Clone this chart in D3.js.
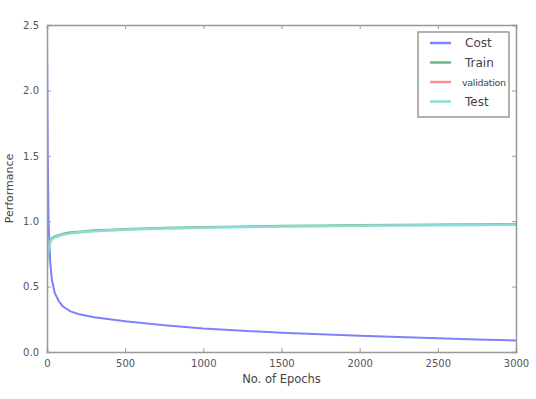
<!DOCTYPE html>
<html>
<head>
<meta charset="utf-8">
<script src="https://cdn.jsdelivr.net/npm/d3@7"></script>
<style>
  body { margin: 0; background: #fff; }
  text { font-family: "DejaVu Sans", sans-serif; fill: #444; }
</style>
</head>
<body>
<div class="canvas"></div>
<script>
// data
const epochs = [0, 5, 10, 20, 30, 50, 75, 100, 150, 200, 300, 400, 500, 750, 1000, 1250, 1500, 1750, 2000, 2250, 2500, 2750, 3000];
const cost = [2.4, 1.5, 1.0, 0.7, 0.56, 0.45, 0.39, 0.35, 0.31, 0.29, 0.265, 0.25, 0.235, 0.205, 0.18, 0.162, 0.148, 0.135, 0.125, 0.115, 0.105, 0.095, 0.088];
const train = [0.72, 0.78, 0.82, 0.85, 0.87, 0.885, 0.895, 0.905, 0.915, 0.92, 0.93, 0.935, 0.94, 0.95, 0.955, 0.96, 0.965, 0.968, 0.97, 0.972, 0.974, 0.976, 0.978];
const validation = [0.70, 0.77, 0.81, 0.845, 0.865, 0.88, 0.89, 0.9, 0.91, 0.917, 0.926, 0.932, 0.937, 0.947, 0.953, 0.958, 0.962, 0.966, 0.968, 0.97, 0.972, 0.974, 0.976];
const test = [0.65, 0.74, 0.79, 0.835, 0.86, 0.875, 0.887, 0.897, 0.907, 0.914, 0.923, 0.929, 0.934, 0.944, 0.95, 0.955, 0.959, 0.962, 0.965, 0.967, 0.969, 0.971, 0.973];
const xTicks = [0, 500, 1000, 1500, 2000, 2500, 3000];
const yTicks = [0.0, 0.5, 1.0, 1.5, 2.0, 2.5];

const series = [
  { name: 'Cost', values: cost, color: '#8080ff', width: 2 },
  { name: 'Train', values: train, color: '#6ab88a', width: 2 },
  { name: 'validation', values: validation, color: '#ff9090', width: 1.5 },
  { name: 'Test', values: test, color: '#8adcd4', width: 2.5 }
];

const dims = { width: 536, height: 399 };
const plot = { left: 47, right: 516, top: 25, bottom: 352 };

const svg = d3.select('.canvas')
    .append('svg')
    .attr('width', dims.width)
    .attr('height', dims.height);

const x = d3.scaleLinear().domain([0, 3000]).range([plot.left, plot.right]);
const y = d3.scaleLinear().domain([0, 2.5]).range([plot.bottom, plot.top]);

svg.append('clipPath').attr('id', 'clip')
    .append('rect')
    .attr('x', plot.left).attr('y', plot.top)
    .attr('width', plot.right - plot.left).attr('height', plot.bottom - plot.top);

// lines
const line = d3.line().x((d, i) => x(epochs[i])).y(d => y(d));
svg.append('g').attr('clip-path', 'url(#clip)')
    .selectAll('path')
    .data(series)
    .enter()
    .append('path')
    .attr('d', d => line(d.values))
    .attr('fill', 'none')
    .attr('stroke', d => d.color)
    .attr('stroke-width', d => d.width);

// axes, ticks pointing inward
const axisColor = '#999';
const fmtY = d3.format('.1f');
const axBottom = svg.append('g').attr('transform', `translate(0,${plot.bottom})`)
    .call(d3.axisBottom(x).tickValues(xTicks).tickSize(-4).tickPadding(8).tickFormat(d3.format('d')));
const axLeft = svg.append('g').attr('transform', `translate(${plot.left},0)`)
    .call(d3.axisLeft(y).tickValues(yTicks).tickSize(-4).tickPadding(8).tickFormat(fmtY));
const axTop = svg.append('g').attr('transform', `translate(0,${plot.top})`)
    .call(d3.axisTop(x).tickValues(xTicks).tickSize(-4).tickFormat(''));
const axRight = svg.append('g').attr('transform', `translate(${plot.right},0)`)
    .call(d3.axisRight(y).tickValues(yTicks).tickSize(-4).tickFormat(''));

[axBottom, axLeft, axTop, axRight].forEach(g => {
  g.select('.domain').attr('stroke', axisColor).attr('stroke-width', 1.5);
  g.selectAll('.tick line').attr('stroke', axisColor);
  g.selectAll('.tick text').attr('font-size', 10).style('fill', '#555');
});

// axis titles
svg.append('text')
    .attr('x', (plot.left + plot.right) / 2)
    .attr('y', 383)
    .attr('text-anchor', 'middle')
    .attr('font-size', 11.5)
    .text('No. of Epochs');
svg.append('text')
    .attr('transform', `translate(13,${(plot.top + plot.bottom) / 2}) rotate(-90)`)
    .attr('text-anchor', 'middle')
    .attr('font-size', 11)
    .text('Performance');

// legend
const legend = svg.append('g');
legend.append('rect')
    .attr('x', 418).attr('y', 32)
    .attr('width', 91).attr('height', 85)
    .attr('fill', '#fff')
    .attr('stroke', '#999')
    .attr('stroke-width', 1.5);

const rows = legend.selectAll('g.row')
    .data(series)
    .enter()
    .append('g')
    .attr('class', 'row')
    .attr('transform', (d, i) => `translate(0,${43 + i * 19.5})`);
rows.append('line')
    .attr('x1', 430).attr('x2', 451)
    .attr('stroke', d => d.color)
    .attr('stroke-width', 2.5);
rows.append('text')
    .attr('x', d => d.name === 'validation' ? 462 : 465)
    .attr('y', 4)
    .attr('font-size', d => d.name === 'validation' ? 9.5 : 12)
    .attr('textLength', d => d.name === 'validation' ? 44 : null)
    .text(d => d.name);
</script>
</body>
</html>
